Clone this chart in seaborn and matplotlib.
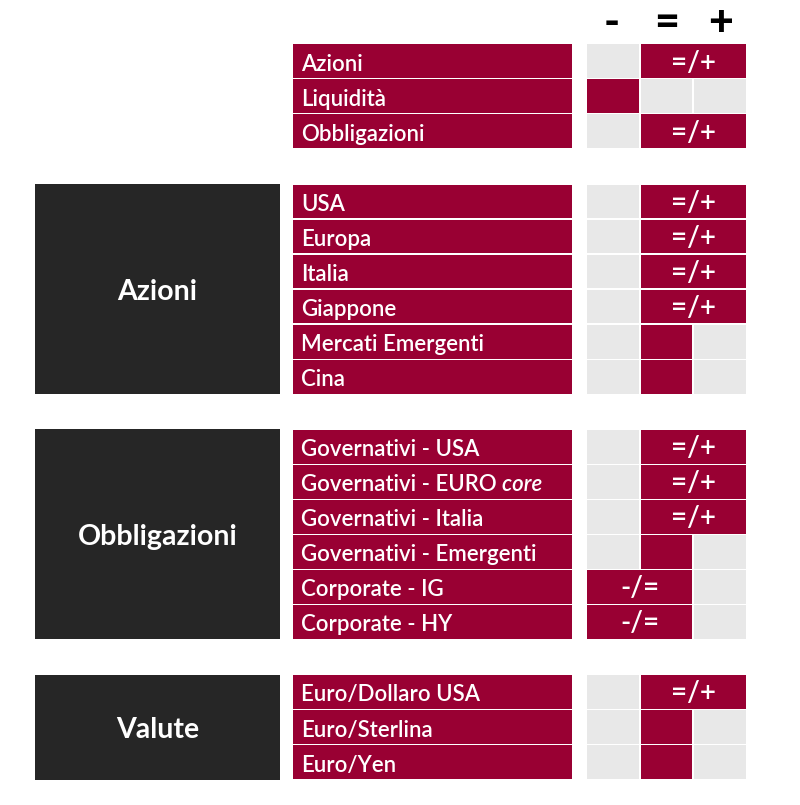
import matplotlib
matplotlib.use("Agg")
import matplotlib.pyplot as plt
import pandas as pd
import seaborn as sns

# ---- data ----
columns = ["-", "=", "+"]
rows = ["Azioni", "Liquidità", "Obbligazioni", " ",
        "USA", "Europa", "Italia", "Giappone", "Mercati Emergenti", "Cina", "  ",
        "Governativi - USA", "Governativi - EURO", "Governativi - Italia",
        "Governativi - Emergenti", "Corporate - IG", "Corporate - HY", "   ",
        "Euro/Dollaro USA", "Euro/Sterlina", "Euro/Yen"]
# first and last column of the filled span, per row (None = spacer)
span_low = [1, 0, 1, None, 1, 1, 1, 1, 1, 1, None, 1, 1, 1, 1, 0, 0, None, 1, 1, 1]
span_high = [2, 0, 2, None, 2, 2, 2, 2, 1, 1, None, 2, 2, 2, 1, 1, 1, None, 2, 1, 1]
span_text = {(1, 2): "=/+", (0, 1): "-/="}
groups = ["Azioni", "Obbligazioni", "Valute"]
group_first = ["USA", "Governativi - USA", "Euro/Dollaro USA"]
group_last = ["Cina", "Corporate - HY", "Euro/Yen"]
italic_suffix = {"Governativi - EURO": "core"}

# ---- style ----
CRIMSON = "#990033"
GREY = "#E8E8E8"
DARK = "#262626"
FONT = "Lato"
sns.set_theme(style="white")
plt.rcParams["font.family"] = [FONT, "DejaVu Sans"]

W, H = 800, 805
ROW_TOP, PITCH = 61.3, 35.04      # pixel centre of the first row, row pitch
LABEL_X0, LABEL_X1 = 292.5, 572
CELL_X0, CELL_W, CELL_GAP = 586, 53.67, 2.0
PANEL_X0, PANEL_X1 = 35, 280
BAR_H = 0.965
BASE = 0.27                       # text baseline below the row centre

fig = plt.figure(figsize=(W / 100, H / 100), dpi=100, facecolor="white")
ax = fig.add_axes([0, 0, 1, 1])

df = pd.DataFrame({"row": rows, "low": span_low, "high": span_high}).dropna()
df["low"] = df["low"].astype(int)
df["high"] = df["high"].astype(int)


def cell_left(c):
    return CELL_X0 + c * CELL_W


def bars(data, left, length, color):
    sns.barplot(data=data.assign(length=length), x="length", y="row", order=rows,
                orient="y", left=left, width=BAR_H, color=color, saturation=1,
                errorbar=None, linewidth=0, ax=ax)


# label bars
bars(df, LABEL_X0, LABEL_X1 - LABEL_X0, CRIMSON)

# grey background cells and filled spans
for c in range(len(columns)):
    free = df[(df["low"] > c) | (df["high"] < c)]
    if len(free):
        bars(free, cell_left(c) + CELL_GAP / 2, CELL_W - CELL_GAP, GREY)
for (lo, hi), sub in df.groupby(["low", "high"]):
    bars(sub, cell_left(lo) + CELL_GAP / 2, (hi - lo + 1) * CELL_W - CELL_GAP, CRIMSON)

# limits: full-figure pixel canvas
ax.set_xlim(0, W)
ax.set_ylim((H - ROW_TOP) / PITCH, -ROW_TOP / PITCH)
ax.set_axis_off()

# group panels
for name, first, last in zip(groups, group_first, group_last):
    a, b = rows.index(first), rows.index(last)
    ax.barh((a + b) / 2, PANEL_X1 - PANEL_X0, height=b - a + 1.0, left=PANEL_X0,
            color=DARK, linewidth=0)
    ax.text((PANEL_X0 + PANEL_X1) / 2, (a + b) / 2, name, color="white", fontsize=20.5,
            fontweight="bold", ha="center", va="center_baseline")

# row labels and span texts
for _, r in df.iterrows():
    i = rows.index(r["row"])
    t = ax.text(301, i + BASE, r["row"], color="white", fontsize=16, fontweight="semibold",
                ha="left", va="baseline")
    if r["row"] in italic_suffix:
        ax.annotate(" " + italic_suffix[r["row"]], xy=(1, 0), xycoords=t, color="white",
                    fontsize=16, fontstyle="italic", fontweight="semibold",
                    ha="left", va="bottom")
    label = span_text.get((r["low"], r["high"]))
    if label:
        ax.text((cell_left(r["low"]) + cell_left(r["high"] + 1)) / 2, i + BASE, label,
                color="white", fontsize=20, fontweight="semibold", ha="center", va="baseline")

# column headers
for c, name in enumerate(columns):
    ax.text(cell_left(c) + CELL_W / 2 + (-1 if c == 0 else 0), -1.18, name, color="black",
            fontsize=31, fontweight="black", ha="center", va="center_baseline")

fig.savefig("out.png", dpi=100, facecolor="white")
